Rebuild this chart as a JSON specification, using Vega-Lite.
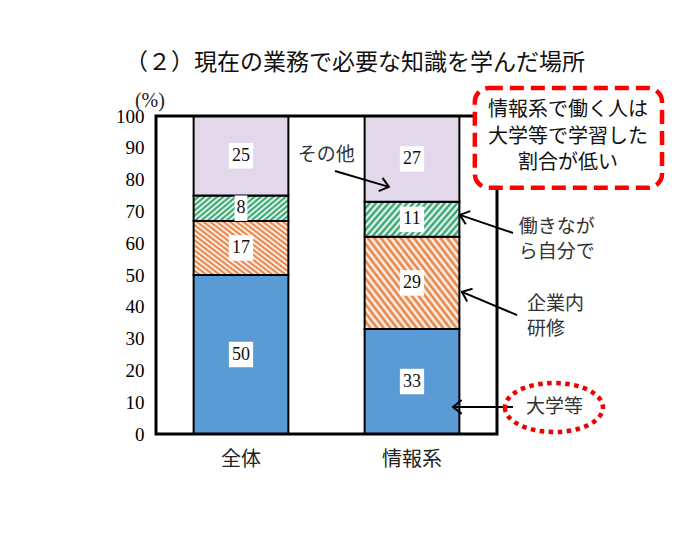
{
  "$schema": "https://vega.github.io/schema/vega-lite/v6.json",
  "width": 341,
  "height": 318,
  "autosize": {"type": "none"},
  "padding": {"left": 156, "top": 116, "right": 182, "bottom": 116},
  "background": "white",
  "title": {
    "text": "（２）現在の業務で必要な知識を学んだ場所",
    "anchor": "start",
    "frame": "group",
    "dx": -31,
    "offset": 11,
    "font": "Noto Sans CJK JP",
    "fontSize": 23,
    "fontWeight": "normal",
    "color": "#111"
  },
  "config": {
    "view": {"stroke": null},
    "axisX": {"ticks": false, "domain": false, "grid": false, "labelAngle": 0, "labelFont": "Noto Sans CJK JP", "labelFontSize": 20, "labelPadding": 15, "labelColor": "#222"},
    "axisY": {"ticks": false, "domain": false, "grid": false, "labelFont": "Liberation Serif", "labelFontSize": 19, "labelPadding": 12, "labelColor": "black", "tickCount": 10}
  },
  "datasets": {
    "bars": [
      {"group": "全体", "category": "大学等", "value": 50},
      {"group": "全体", "category": "企業内研修", "value": 17},
      {"group": "全体", "category": "働きながら自分で", "value": 8},
      {"group": "全体", "category": "その他", "value": 25},
      {"group": "情報系", "category": "大学等", "value": 33},
      {"group": "情報系", "category": "企業内研修", "value": 29},
      {"group": "情報系", "category": "働きながら自分で", "value": 11},
      {"group": "情報系", "category": "その他", "value": 27}
    ],
    "notes": [
      {"kind": "frame", "x": 0, "y": 0, "x2": 10, "y2": 100},
      {"kind": "unit", "x": -0.18, "y": 104.7, "text": "(%)"},
      {"kind": "label", "x": 4.16, "y": 87.7, "text": "その他"},
      {"kind": "label", "x": 10.64, "y": 65.2, "text": "働きなが"},
      {"kind": "label", "x": 10.64, "y": 57.1, "text": "ら自分で"},
      {"kind": "label", "x": 10.88, "y": 41.0, "text": "企業内"},
      {"kind": "label", "x": 10.88, "y": 32.9, "text": "研修"},
      {"kind": "label", "x": 10.85, "y": 8.5, "text": "大学等"},
      {"kind": "arrow", "x": 5.25, "y": 82.7, "x2": 6.83, "y2": 77.7},
      {"kind": "arrow", "x": 10.47, "y": 63.2, "x2": 8.91, "y2": 68.9},
      {"kind": "arrow", "x": 10.59, "y": 37.4, "x2": 8.97, "y2": 44.7},
      {"kind": "arrow", "x": 10.47, "y": 8.5, "x2": 8.71, "y2": 8.5},
      {"kind": "callout", "x": 9.35, "y": 108.8, "x2": 14.84, "y2": 77.4},
      {"kind": "callout-text", "x": 12.08, "y": 101.8, "text": "情報系で働く人は"},
      {"kind": "callout-text", "x": 12.08, "y": 93.5, "text": "大学等で学習した"},
      {"kind": "callout-text", "x": 12.08, "y": 85.2, "text": "割合が低い"},
      {"kind": "ellipse", "x": 11.67, "y": 8.33}
    ]
  },
  "layer": [
    {
      "data": {"name": "bars"},
      "transform": [
        {"calculate": "indexof(['大学等','企業内研修','働きながら自分で','その他'], datum.category)", "as": "order"},
        {"stack": "value", "groupby": ["group"], "sort": [{"field": "order", "order": "ascending"}], "as": ["y0", "y1"]},
        {"calculate": "(datum.y0 + datum.y1) / 2", "as": "mid"}
      ],
      "encoding": {
        "x": {"field": "group", "type": "nominal", "sort": ["全体", "情報系"], "title": null, "scale": {"paddingInner": 0.446, "paddingOuter": 0.22}}
      },
      "layer": [
        {
          "transform": [{"filter": "datum.category === '大学等'"}],
          "mark": {"type": "bar", "fill": "#5b9bd5", "stroke": "black", "strokeWidth": 2},
          "encoding": {
            "y": {"field": "y0", "type": "quantitative", "title": null, "scale": {"domain": [0, 100], "nice": false}},
            "y2": {"field": "y1"}
          }
        },
        {
          "transform": [{"filter": "datum.category === '企業内研修'"}],
          "mark": {
            "type": "bar", "stroke": "black", "strokeWidth": 2,
            "fill": {
              "gradient": "linear", "x1": 0, "y1": 1, "x2": 1.122, "y2": 0.164,
              "stops": [{"offset":0,"color":"#e3752f"},{"offset":0.02,"color":"#fff"},{"offset":0.04,"color":"#e3752f"},{"offset":0.06,"color":"#fff"},{"offset":0.08,"color":"#e3752f"},{"offset":0.1,"color":"#fff"},{"offset":0.12,"color":"#e3752f"},{"offset":0.14,"color":"#fff"},{"offset":0.16,"color":"#e3752f"},{"offset":0.18,"color":"#fff"},{"offset":0.2,"color":"#e3752f"},{"offset":0.22,"color":"#fff"},{"offset":0.24,"color":"#e3752f"},{"offset":0.26,"color":"#fff"},{"offset":0.28,"color":"#e3752f"},{"offset":0.3,"color":"#fff"},{"offset":0.32,"color":"#e3752f"},{"offset":0.34,"color":"#fff"},{"offset":0.36,"color":"#e3752f"},{"offset":0.38,"color":"#fff"},{"offset":0.4,"color":"#e3752f"},{"offset":0.42,"color":"#fff"},{"offset":0.44,"color":"#e3752f"},{"offset":0.46,"color":"#fff"},{"offset":0.48,"color":"#e3752f"},{"offset":0.5,"color":"#fff"},{"offset":0.52,"color":"#e3752f"},{"offset":0.54,"color":"#fff"},{"offset":0.56,"color":"#e3752f"},{"offset":0.58,"color":"#fff"},{"offset":0.6,"color":"#e3752f"},{"offset":0.62,"color":"#fff"},{"offset":0.64,"color":"#e3752f"},{"offset":0.66,"color":"#fff"},{"offset":0.68,"color":"#e3752f"},{"offset":0.7,"color":"#fff"},{"offset":0.72,"color":"#e3752f"},{"offset":0.74,"color":"#fff"},{"offset":0.76,"color":"#e3752f"},{"offset":0.78,"color":"#fff"},{"offset":0.8,"color":"#e3752f"},{"offset":0.82,"color":"#fff"},{"offset":0.84,"color":"#e3752f"},{"offset":0.86,"color":"#fff"},{"offset":0.88,"color":"#e3752f"},{"offset":0.9,"color":"#fff"},{"offset":0.92,"color":"#e3752f"},{"offset":0.94,"color":"#fff"},{"offset":0.96,"color":"#e3752f"},{"offset":0.98,"color":"#fff"},{"offset":1,"color":"#e3752f"}]
            }
          },
          "encoding": {
            "y": {"field": "y0", "type": "quantitative", "title": null, "scale": {"domain": [0, 100], "nice": false}},
            "y2": {"field": "y1"}
          }
        },
        {
          "transform": [{"filter": "datum.category === '働きながら自分で'"}],
          "mark": {
            "type": "bar", "stroke": "black", "strokeWidth": 2,
            "fill": {
              "gradient": "linear", "x1": 0, "y1": 0, "x2": 1.197, "y2": 0.382,
              "stops": [{"offset":0,"color":"#1b9a5f"},{"offset":0.025,"color":"#fff"},{"offset":0.05,"color":"#1b9a5f"},{"offset":0.075,"color":"#fff"},{"offset":0.1,"color":"#1b9a5f"},{"offset":0.125,"color":"#fff"},{"offset":0.15,"color":"#1b9a5f"},{"offset":0.175,"color":"#fff"},{"offset":0.2,"color":"#1b9a5f"},{"offset":0.225,"color":"#fff"},{"offset":0.25,"color":"#1b9a5f"},{"offset":0.275,"color":"#fff"},{"offset":0.3,"color":"#1b9a5f"},{"offset":0.325,"color":"#fff"},{"offset":0.35,"color":"#1b9a5f"},{"offset":0.375,"color":"#fff"},{"offset":0.4,"color":"#1b9a5f"},{"offset":0.425,"color":"#fff"},{"offset":0.45,"color":"#1b9a5f"},{"offset":0.475,"color":"#fff"},{"offset":0.5,"color":"#1b9a5f"},{"offset":0.525,"color":"#fff"},{"offset":0.55,"color":"#1b9a5f"},{"offset":0.575,"color":"#fff"},{"offset":0.6,"color":"#1b9a5f"},{"offset":0.625,"color":"#fff"},{"offset":0.65,"color":"#1b9a5f"},{"offset":0.675,"color":"#fff"},{"offset":0.7,"color":"#1b9a5f"},{"offset":0.725,"color":"#fff"},{"offset":0.75,"color":"#1b9a5f"},{"offset":0.775,"color":"#fff"},{"offset":0.8,"color":"#1b9a5f"},{"offset":0.825,"color":"#fff"},{"offset":0.85,"color":"#1b9a5f"},{"offset":0.875,"color":"#fff"},{"offset":0.9,"color":"#1b9a5f"},{"offset":0.925,"color":"#fff"},{"offset":0.95,"color":"#1b9a5f"},{"offset":0.975,"color":"#fff"},{"offset":1,"color":"#1b9a5f"}]
            }
          },
          "encoding": {
            "y": {"field": "y0", "type": "quantitative", "title": null, "scale": {"domain": [0, 100], "nice": false}},
            "y2": {"field": "y1"}
          }
        },
        {
          "transform": [{"filter": "datum.category === 'その他'"}],
          "mark": {"type": "bar", "fill": "#e2d8ea", "stroke": "black", "strokeWidth": 2},
          "encoding": {
            "y": {"field": "y0", "type": "quantitative", "title": null, "scale": {"domain": [0, 100], "nice": false}},
            "y2": {"field": "y1"}
          }
        },
        {
          "mark": {"type": "point", "filled": true, "fill": "white", "strokeWidth": 0, "opacity": 1, "size": 650},
          "encoding": {
            "y": {"field": "mid", "type": "quantitative", "title": null, "scale": {"domain": [0, 100], "nice": false}},
            "shape": {"condition": {"test": "datum.value < 10", "value": "M-0.5,-1H0.5V1H-0.5Z"}, "value": "M-0.95,-1H0.95V1H-0.95Z"}
          }
        },
        {
          "mark": {"type": "text", "font": "Liberation Serif", "fontSize": 18, "color": "#111", "baseline": "middle", "align": "center"},
          "encoding": {
            "y": {"field": "mid", "type": "quantitative", "title": null, "scale": {"domain": [0, 100], "nice": false}},
            "text": {"field": "value"}
          }
        }
      ]
    },
    {
      "data": {"name": "notes"},
      "layer": [
        {
          "transform": [{"filter": "datum.kind === 'frame'"}],
          "mark": {"type": "rect", "fill": "transparent", "stroke": "black", "strokeWidth": 3},
          "encoding": {
            "x": {"field": "x", "type": "quantitative", "scale": {"domain": [0, 10], "nice": false}, "axis": null},
            "x2": {"field": "x2"},
            "y": {"field": "y", "type": "quantitative", "scale": {"domain": [0, 100], "nice": false}, "axis": null},
            "y2": {"field": "y2"}
          }
        },
        {
          "transform": [{"filter": "datum.kind === 'arrow'"}],
          "mark": {"type": "rule", "stroke": "black", "strokeWidth": 2},
          "encoding": {
            "x": {"field": "x", "type": "quantitative", "scale": {"domain": [0, 10], "nice": false}, "axis": null},
            "x2": {"field": "x2"},
            "y": {"field": "y", "type": "quantitative", "scale": {"domain": [0, 100], "nice": false}, "axis": null},
            "y2": {"field": "y2"}
          }
        },
        {
          "transform": [
            {"filter": "datum.kind === 'arrow'"},
            {"calculate": "atan2(-(datum.y2 - datum.y) * 3.18, (datum.x2 - datum.x) * 34.1) * 180 / PI", "as": "angle"}
          ],
          "mark": {"type": "point", "filled": false, "stroke": "black", "strokeWidth": 2, "opacity": 1, "size": 300, "shape": "M-1,-0.8L0,0L-1,0.8"},
          "encoding": {
            "x": {"field": "x2", "type": "quantitative", "scale": {"domain": [0, 10], "nice": false}, "axis": null},
            "y": {"field": "y2", "type": "quantitative", "scale": {"domain": [0, 100], "nice": false}, "axis": null},
            "angle": {"field": "angle", "type": "quantitative", "scale": null}
          }
        },
        {
          "transform": [{"filter": "datum.kind === 'unit'"}],
          "mark": {"type": "text", "font": "Liberation Serif", "fontSize": 20, "color": "#222", "align": "center", "baseline": "middle", "letterSpacing": 1},
          "encoding": {
            "x": {"field": "x", "type": "quantitative", "scale": {"domain": [0, 10], "nice": false}, "axis": null},
            "y": {"field": "y", "type": "quantitative", "scale": {"domain": [0, 100], "nice": false}, "axis": null},
            "text": {"field": "text"}
          }
        },
        {
          "transform": [{"filter": "datum.kind === 'label'"}],
          "mark": {"type": "text", "font": "Noto Sans CJK JP", "fontSize": 19, "color": "#333", "align": "left", "baseline": "middle"},
          "encoding": {
            "x": {"field": "x", "type": "quantitative", "scale": {"domain": [0, 10], "nice": false}, "axis": null},
            "y": {"field": "y", "type": "quantitative", "scale": {"domain": [0, 100], "nice": false}, "axis": null},
            "text": {"field": "text"}
          }
        },
        {
          "transform": [{"filter": "datum.kind === 'callout'"}],
          "mark": {"type": "rect", "fill": "white", "stroke": "#ff0000", "strokeWidth": 4.5, "strokeDash": [14, 7], "cornerRadius": 14},
          "encoding": {
            "x": {"field": "x", "type": "quantitative", "scale": {"domain": [0, 10], "nice": false}, "axis": null},
            "x2": {"field": "x2"},
            "y": {"field": "y", "type": "quantitative", "scale": {"domain": [0, 100], "nice": false}, "axis": null},
            "y2": {"field": "y2"}
          }
        },
        {
          "transform": [{"filter": "datum.kind === 'callout-text'"}],
          "mark": {"type": "text", "font": "Noto Sans CJK JP", "fontSize": 20, "color": "#111", "align": "center", "baseline": "middle"},
          "encoding": {
            "x": {"field": "x", "type": "quantitative", "scale": {"domain": [0, 10], "nice": false}, "axis": null},
            "y": {"field": "y", "type": "quantitative", "scale": {"domain": [0, 100], "nice": false}, "axis": null},
            "text": {"field": "text"}
          }
        },
        {
          "transform": [{"filter": "datum.kind === 'ellipse'"}],
          "mark": {"type": "point", "filled": false, "stroke": "#ee0000", "strokeWidth": 4.5, "strokeDash": [4.5, 4.5], "opacity": 1, "size": 9604, "shape": "M-1,0A1,0.5,0,1,0,1,0A1,0.5,0,1,0,-1,0Z"},
          "encoding": {
            "x": {"field": "x", "type": "quantitative", "scale": {"domain": [0, 10], "nice": false}, "axis": null},
            "y": {"field": "y", "type": "quantitative", "scale": {"domain": [0, 100], "nice": false}, "axis": null}
          }
        }
      ]
    }
  ],
  "resolve": {"scale": {"x": "independent", "y": "independent"}}
}
